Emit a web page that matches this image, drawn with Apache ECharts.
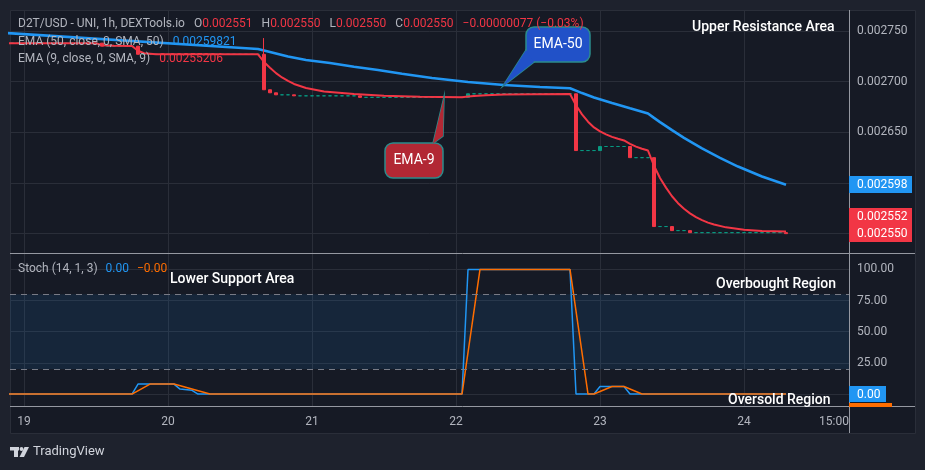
<!DOCTYPE html>
<html>
<head>
<meta charset="utf-8">
<title>D2T/USD - UNI, 1h</title>
<script src="https://cdn.jsdelivr.net/npm/echarts@6/dist/echarts.min.js"></script>
<style>
    html, body { margin: 0; padding: 0; background: #1e222d; }
    #chart { width: 925px; height: 470px; }
</style>
</head>
<body>
<div id="chart"></div>
<script>
// time is counted in hours from 19 Nov 00:00, one candle per hour
var xTickHours = [0, 24, 48, 72, 96, 120, 135];
var xTickLabels = ['19', '20', '21', '22', '23', '24', '15:00'];
var dayLines = [0, 24, 48, 72, 96, 120];

var priceTicks = [0.00255, 0.0026, 0.00265, 0.0027, 0.00275];
var stochTicks = [0, 25, 50, 75, 100];

// runs of hours where the candle did not move (open = close)
var flatRuns = [
    [-3, 12, 0.002738],
    [14, 18, 0.002735],
    [20, 39, 0.002727],
    [43, 44, 0.002687],
    [46, 55, 0.002686],
    [57, 73, 0.0026845],
    [75, 91, 0.002688],
    [93, 95, 0.002632],
    [97, 100, 0.002636],
    [102, 104, 0.002625],
    [106, 107, 0.002557],
    [109, 110, 0.002553],
    [112, 126, 0.002551]
];
// candles that did move
var moveHours = [13, 19, 40, 41, 42, 45, 56, 74, 92, 96, 101, 105, 108, 111, 127];
var moveOpen = [0.002738, 0.002735, 0.002727, 0.002692, 0.002689, 0.002687, 0.002686, 0.0026845,
    0.002688, 0.002632, 0.002636, 0.002625, 0.002557, 0.002553, 0.002551];
var moveClose = [0.002735, 0.002727, 0.002692, 0.002689, 0.002687, 0.002686, 0.0026845, 0.002688,
    0.002632, 0.002636, 0.002625, 0.002557, 0.002553, 0.002551, 0.002550];
var moveHigh = [0.002738, 0.002735, 0.002743, 0.002692, 0.002689, 0.002687, 0.002686, 0.002688,
    0.002688, 0.002636, 0.002636, 0.002625, 0.002557, 0.002553, 0.002551];

// EMA 50 (blue)
var slowHours = [-3, 39, 40, 42, 44, 47, 51, 55, 59, 63, 68, 74, 80, 86, 91, 92, 93, 95, 98, 101,
    104, 105, 106, 108, 110, 113, 116, 119, 123, 127];
var slowValues = [0.002748, 0.0027322, 0.0027308, 0.0027278, 0.0027248, 0.0027214, 0.0027184,
    0.0027147, 0.0027115, 0.0027078, 0.0027036, 0.0026997, 0.0026967, 0.0026947, 0.0026935,
    0.0026911, 0.0026887, 0.0026844, 0.0026790, 0.0026737, 0.0026685, 0.0026642, 0.0026601,
    0.0026521, 0.0026446, 0.0026341, 0.0026247, 0.0026162, 0.0026064, 0.0025982];

// EMA 9 (red)
var fastHours = [-3, 12, 13, 15, 18, 19, 20, 22, 39, 40, 41, 42, 43, 44, 45, 47, 50, 55, 60, 66, 73,
    74, 75, 77, 80, 85, 91, 92, 93, 94, 95, 96, 97, 98, 99, 100, 101, 102, 103, 104, 105, 106, 107,
    108, 109, 110, 111, 112, 113, 114, 115, 117, 120, 123, 127];
var fastValues = [0.0027379, 0.0027379, 0.0027360, 0.0027353, 0.0027352, 0.0027305, 0.0027280,
    0.0027271, 0.0027270, 0.0027194, 0.0027138, 0.0027084, 0.0027041, 0.0027007, 0.0026977,
    0.0026938, 0.0026903, 0.0026878, 0.0026861, 0.0026851, 0.0026846,
    0.0026853, 0.0026859, 0.0026866, 0.0026872, 0.0026876, 0.0026878, 0.0026767, 0.0026677,
    0.0026605, 0.0026548, 0.0026510, 0.0026480, 0.0026455, 0.0026436, 0.0026420, 0.0026386,
    0.0026359, 0.0026338, 0.0026320, 0.0026170, 0.0026049, 0.0025954, 0.0025869, 0.0025801,
    0.0025746, 0.0025700, 0.0025663, 0.0025633, 0.0025609, 0.0025590, 0.0025562, 0.0025538,
    0.0025526, 0.0025521];

// Stoch (14, 1, 3)
var kHours = [-3, 18, 19, 25, 26, 28, 29, 73, 74, 91, 92, 95, 96, 100, 101, 127];
var kValues = [0, 0, 8, 8, 4, 3, 0, 0, 100, 100, 0, 0, 6, 6, 0, 0];
var dHours = [-3, 18, 21, 25, 31, 73, 76, 91, 94, 95, 98, 100, 103, 127];
var dValues = [0, 0, 8, 8, 0, 0, 100, 100, 0, 0, 6, 6, 0, 0];

var lastClose = 0.002550;

var RED = '#f23645';
var GREEN = '#089981';
var BLUE = '#2196f3';
var ORANGE = '#ff6d00';
var GRID = '#2a2e39';
var TEXT = '#b2b5be';
var LINE = '#9598a1';
var FONT = 'Roboto, "Noto Sans", sans-serif';

function buildCandles() {
    var rows = [];
    flatRuns.forEach(function (run) {
        for (var h = run[0]; h <= run[1]; h++) {
            rows.push([h, run[2], run[2], run[2], run[2]]);
        }
    });
    moveHours.forEach(function (h, i) {
        var o = moveOpen[i];
        var c = moveClose[i];
        rows.push([h, o, c, Math.min(o, c), moveHigh[i]]);
    });
    rows.sort(function (a, b) {
        return a[0] - b[0];
    });
    return rows;
}

function pairs(xs, ys) {
    return xs.map(function (x, i) {
        return [x, ys[i]];
    });
}

function xAxisFor(gridIndex, showLabels) {
    return {
        type: 'value',
        gridIndex: gridIndex,
        min: -14 / 6,
        max: 137.5,
        axisLine: { show: false },
        axisTick: { show: false, customValues: dayLines },
        axisLabel: {
            show: showLabels,
            customValues: xTickHours,
            color: TEXT,
            fontSize: 12,
            fontFamily: FONT,
            margin: 9,
            formatter: function (v) {
                var i = xTickHours.indexOf(Math.round(v));
                return i < 0 ? '' : xTickLabels[i];
            }
        },
        splitLine: { show: true, lineStyle: { color: GRID, width: 1 } }
    };
}

var candles = buildCandles();

// text over the plot
function label(x, y, text, color, size, weight, align) {
    return {
        type: 'text',
        x: x,
        y: y,
        z: 100,
        style: {
            text: text,
            fill: color,
            font: (weight || 'normal') + ' ' + size + 'px ' + FONT,
            align: align || 'left',
            verticalAlign: 'middle'
        }
    };
}

function callout(box, tip, base, fill, text) {
    var border = '#2b8c8c';
    return [
        { type: 'polygon', z: 60, shape: { points: [base[0], base[1], tip] },
            style: { fill: fill, stroke: border, lineWidth: 1.5 } },
        { type: 'rect', z: 61, shape: { x: box[0], y: box[1], width: box[2], height: box[3], r: 8 },
            style: { fill: fill, stroke: border, lineWidth: 1.5 } },
        { type: 'polygon', z: 62, shape: { points: [base[0], base[1], tip] },
            style: { fill: fill } },
        label(box[0] + box[2] / 2, box[1] + box[3] / 2, text, '#ffffff', 14, 'normal', 'center')
    ];
}

function tag(x, y, w, h, fill, text) {
    var els = [{ type: 'rect', z: 80, shape: { x: x, y: y, width: w, height: h }, style: { fill: fill } }];
    if (text) {
        els.push(label(x + 8, y + h / 2 + 0.5, text, '#ffffff', 12));
    }
    return els;
}

var gap = [0, 0, 0, 9];
var graphics = [
    // chart frame
    { type: 'rect', z: -10, silent: true, shape: { x: 10.5, y: 10.5, width: 905, height: 423 },
        style: { fill: '#161a25', stroke: GRID, lineWidth: 1 } },
    // pane separators and axis borders
    { type: 'line', z: 50, shape: { x1: 10, y1: 253.5, x2: 915, y2: 253.5 }, style: { stroke: LINE, lineWidth: 1 } },
    { type: 'line', z: 50, shape: { x1: 10, y1: 406.5, x2: 915, y2: 406.5 }, style: { stroke: LINE, lineWidth: 1 } },
    { type: 'line', z: 50, shape: { x1: 849.5, y1: 10, x2: 849.5, y2: 433 }, style: { stroke: LINE, lineWidth: 1 } },

    // legend rows
    {
        type: 'text', x: 18, y: 24, z: 100,
        style: {
            text: '{g|D2T/USD - UNI, 1h, DEXTools.io}{k|O}{r|0.002551}{k|H}{r|0.002550}'
                + '{k|L}{r|0.002550}{k|C}{r|0.002550}{s|\u22120.00000077 (\u22120.03%)}',
            verticalAlign: 'middle',
            rich: {
                g: { fill: TEXT, fontSize: 12, fontFamily: FONT },
                k: { fill: TEXT, fontSize: 12, fontFamily: FONT, padding: gap },
                r: { fill: RED, fontSize: 12, fontFamily: FONT },
                s: { fill: RED, fontSize: 12, fontFamily: FONT, padding: gap }
            }
        }
    },
    {
        type: 'text', x: 18, y: 42, z: 100,
        style: {
            text: '{g|EMA (50, close, 0, SMA, 50)}{b|0.00259821}',
            verticalAlign: 'middle',
            rich: {
                g: { fill: TEXT, fontSize: 12, fontFamily: FONT },
                b: { fill: BLUE, fontSize: 12, fontFamily: FONT, padding: gap }
            }
        }
    },
    {
        type: 'text', x: 18, y: 59, z: 100,
        style: {
            text: '{g|EMA (9, close, 0, SMA, 9)}{r|0.00255206}',
            verticalAlign: 'middle',
            rich: {
                g: { fill: TEXT, fontSize: 12, fontFamily: FONT },
                r: { fill: RED, fontSize: 12, fontFamily: FONT, padding: gap }
            }
        }
    },
    {
        type: 'text', x: 18, y: 269, z: 100,
        style: {
            text: '{g|Stoch (14, 1, 3)}{b|0.00}{o|\u22120.00}',
            verticalAlign: 'middle',
            rich: {
                g: { fill: TEXT, fontSize: 12, fontFamily: FONT },
                b: { fill: BLUE, fontSize: 12, fontFamily: FONT, padding: [0, 0, 0, 8] },
                o: { fill: ORANGE, fontSize: 12, fontFamily: FONT, padding: [0, 0, 0, 8] }
            }
        }
    },

    // area notes
    label(692, 27, 'Upper Resistance Area', '#ffffff', 14, '500'),
    label(170, 279, 'Lower Support Area', '#ffffff', 14, '500'),
    label(716, 284, 'Overbought Region', '#ffffff', 14, '500'),
    label(728, 400, 'Oversold Region', '#ffffff', 14, '500'),

    // TradingView mark
    { type: 'rect', shape: { x: 10, y: 447, width: 9, height: 3.5 }, style: { fill: '#d1d4dc' } },
    { type: 'rect', shape: { x: 14, y: 447, width: 4, height: 10 }, style: { fill: '#d1d4dc' } },
    { type: 'circle', shape: { cx: 21.5, cy: 449, r: 1.9 }, style: { fill: '#d1d4dc' } },
    { type: 'polygon', shape: { points: [[24.5, 447], [29, 447], [24, 457], [19.5, 457]] }, style: { fill: '#d1d4dc' } },
    label(33, 452, 'TradingView', '#d1d4dc', 13)
];

graphics = graphics
    .concat(callout([526, 27, 64, 35], [503, 86], [[526, 50], [534, 62]], '#2151c8', 'EMA-50'))
    .concat(callout([385, 143, 58, 35], [444, 97], [[433, 143.5], [443, 136]], '#b22834', 'EMA-9'))
    .concat(tag(849, 176, 63, 17, BLUE, '0.002598'))
    .concat(tag(849, 208, 63, 17, RED, '0.002552'))
    .concat(tag(849, 225, 63, 17, RED, '0.002550'))
    .concat(tag(849, 386, 37, 16, BLUE, '0.00'))
    .concat(tag(849, 403, 43, 4, ORANGE, null));

var option = {
    backgroundColor: '#1e222d',
    animation: false,
    textStyle: { fontFamily: FONT },
    grid: [
        { left: 10, top: 10, width: 839, height: 243 },
        { left: 10, top: 254, width: 839, height: 153 }
    ],
    xAxis: [xAxisFor(0, false), xAxisFor(1, true)],
    yAxis: [
        {
            type: 'value',
            gridIndex: 0,
            position: 'right',
            min: 0.0025309,
            max: 0.0027707,
            axisLine: { show: false },
            axisTick: { show: false, customValues: priceTicks },
            axisLabel: {
                customValues: priceTicks,
                color: TEXT,
                fontSize: 12,
                fontFamily: FONT,
                margin: 8,
                formatter: function (v) {
                    return v.toFixed(6);
                }
            },
            splitLine: { show: true, lineStyle: { color: GRID, width: 1 } }
        },
        {
            type: 'value',
            gridIndex: 1,
            position: 'right',
            min: -10.4,
            max: 112.4,
            axisLine: { show: false },
            axisTick: { show: false, customValues: stochTicks },
            axisLabel: {
                customValues: stochTicks,
                color: TEXT,
                fontSize: 12,
                fontFamily: FONT,
                margin: 8,
                formatter: function (v) {
                    return v.toFixed(2);
                }
            },
            splitLine: { show: true, lineStyle: { color: GRID, width: 1 } }
        }
    ],
    series: [
        {
            name: 'EMA 50',
            type: 'line',
            xAxisIndex: 0,
            yAxisIndex: 0,
            data: pairs(slowHours, slowValues),
            showSymbol: false,
            lineStyle: { color: BLUE, width: 2.6 },
            z: 3
        },
        {
            name: 'D2T/USD',
            type: 'candlestick',
            xAxisIndex: 0,
            yAxisIndex: 0,
            data: candles,
            encode: { x: 0, y: [1, 2, 3, 4] },
            barWidth: 4,
            itemStyle: {
                color: GREEN,
                color0: RED,
                borderColor: GREEN,
                borderColor0: RED,
                borderWidth: 1
            },
            markLine: {
                silent: true,
                symbol: 'none',
                label: { show: false },
                lineStyle: { color: RED, type: [1, 3], width: 1 },
                data: [{ yAxis: lastClose }]
            },
            z: 4
        },
        {
            name: 'EMA 9',
            type: 'line',
            xAxisIndex: 0,
            yAxisIndex: 0,
            data: pairs(fastHours, fastValues),
            showSymbol: false,
            lineStyle: { color: RED, width: 2 },
            z: 5
        },
        {
            name: '%K',
            type: 'line',
            xAxisIndex: 1,
            yAxisIndex: 1,
            data: pairs(kHours, kValues),
            showSymbol: false,
            lineStyle: { color: BLUE, width: 1.5 },
            markArea: {
                silent: true,
                itemStyle: { color: 'rgba(33,150,243,0.1)' },
                data: [[{ yAxis: 20 }, { yAxis: 80 }]]
            },
            markLine: {
                silent: true,
                symbol: 'none',
                label: { show: false },
                lineStyle: { color: '#787b86', type: [6, 5], width: 1 },
                data: [{ yAxis: 80 }, { yAxis: 20 }]
            },
            z: 3
        },
        {
            name: '%D',
            type: 'line',
            xAxisIndex: 1,
            yAxisIndex: 1,
            data: pairs(dHours, dValues),
            showSymbol: false,
            lineStyle: { color: ORANGE, width: 1.5 },
            z: 4
        }
    ],
    graphic: graphics
};

var myChart = echarts.init(document.getElementById('chart'));
myChart.setOption(option);
</script>
</body>
</html>
